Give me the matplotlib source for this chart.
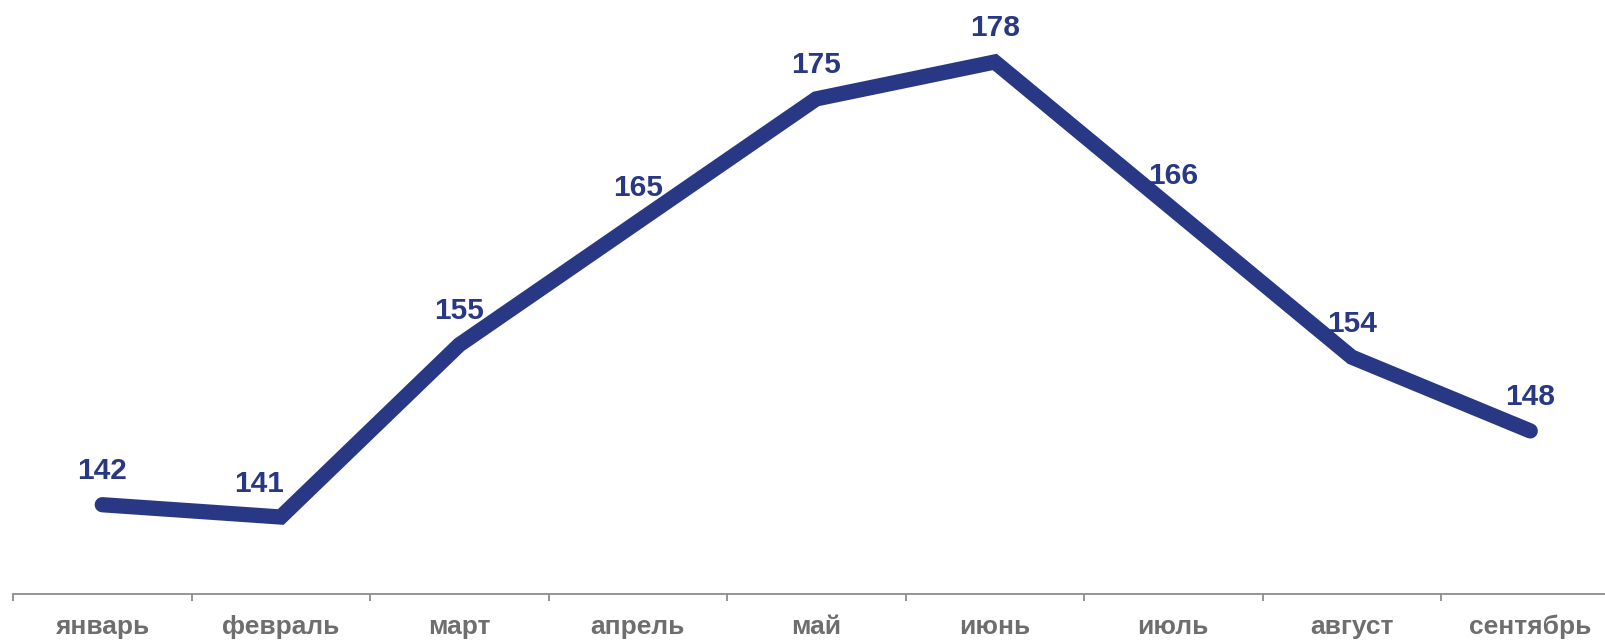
import matplotlib
matplotlib.use("Agg")
import matplotlib.pyplot as plt

months = ["январь", "февраль", "март", "апрель", "май", "июнь", "июль", "август", "сентябрь"]
values = [142, 141, 155, 165, 175, 178, 166, 154, 148]
label_dx = [0, -22, 0, 0, 0, 0, 0, 0, 0]  # px shift of value labels

W, H, DPI = 1605, 641, 100
fig = plt.figure(figsize=(W / DPI, H / DPI), dpi=DPI)
ax_left = 13
cat_w = 178.5
ax_bottom = 594
ax = fig.add_axes([ax_left / W, (H - ax_bottom) / H, cat_w * len(months) / W, ax_bottom / H])

x = list(range(len(months)))
ax.plot(x, values, color="#293885", lw=11, solid_capstyle="round", solid_joinstyle="miter")
ax.set_xlim(-0.5, len(months) - 0.5)
ax.set_ylim(134.74, 183.04)

for i, v in enumerate(values):
    ax.annotate(str(v), (i, v), xytext=(label_dx[i] * 0.72, 33.5 * 0.72), textcoords="offset points",
                ha="center", va="center", fontsize=21.5, fontweight="bold",
                color="#293885", family="Liberation Sans")

ax.set_yticks([])
for s in ["top", "right", "left"]:
    ax.spines[s].set_visible(False)
ax.spines["bottom"].set_color("#8c8c8c")
ax.spines["bottom"].set_linewidth(1.3)
ax.set_xticks([i - 0.5 for i in range(len(months) + 1)])
ax.set_xticklabels([])
ax.set_xticks(x, minor=True)
ax.set_xticklabels(months, minor=True, fontsize=19, fontweight="bold", color="#6e6e6e",
                   family="Liberation Sans")
ax.tick_params(axis="x", which="major", length=5, width=1.3, color="#8c8c8c", direction="out")
ax.tick_params(axis="x", which="minor", length=0, pad=15)

fig.savefig("out.png", dpi=DPI)
